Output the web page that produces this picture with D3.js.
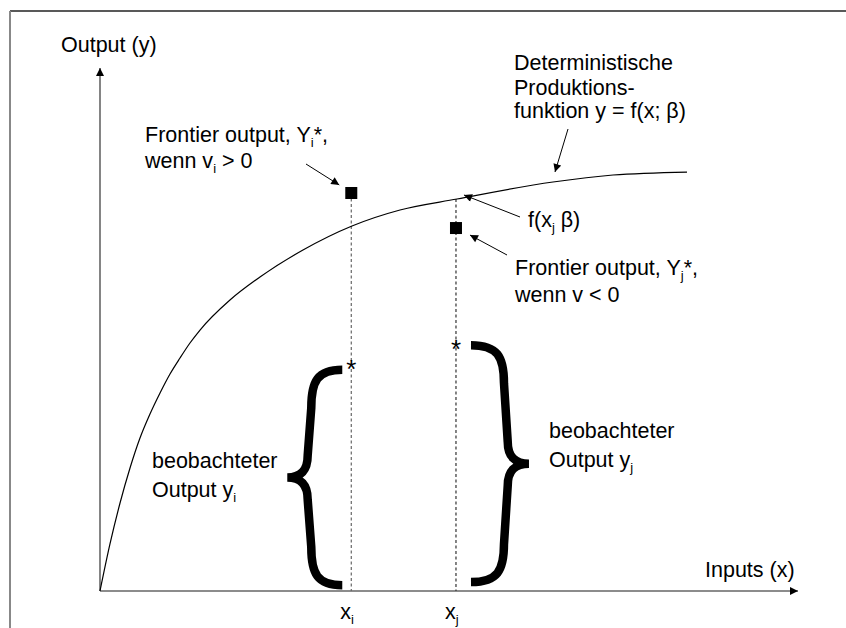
<!DOCTYPE html>
<html>
<head>
<meta charset="utf-8">
<script src="https://cdn.jsdelivr.net/npm/d3@7"></script>
<style>
  body { margin: 0; background: #fff; }
  svg text { font-family: "Liberation Sans", Arial, Helvetica, sans-serif; fill: #000; }
</style>
</head>
<body>
<div id="chart"></div>
<script>
// deterministic production function y = f(x; beta)
var curveX = [0, 0.143, 0.287, 0.43, 0.573, 0.716, 0.86, 1.003, 1.146, 1.289, 1.433, 1.862, 2.292, 2.908, 3.61, 4.298, 5.115, 6.49, 7.35, 8.41]
var curveY = [0, 0.899, 1.683, 2.352, 2.925, 3.384, 3.786, 4.149, 4.455, 4.742, 4.99, 5.564, 6.004, 6.52, 6.979, 7.285, 7.495, 7.82, 7.954, 8.011]

// the two producers i and j
var obsNames = ["i", "j"]
var obsX = [3.6, 5.1]
var frontierY = [7.61, 6.94]      // frontier output Y*
var dashTop = [7.61, 7.495]       // top of the dashed guide
var starY = [4.36, 4.74]          // observed output y
var braceTop = [4.23, 4.70]
var braceBottom = [0.11, 0.17]

var width = 846, height = 628

var x = d3.scaleLinear().domain([0, 10]).range([100, 798])
var y = d3.scaleLinear().domain([0, 10]).range([591, 68])

var svg = d3.select("#chart").append("svg")
  .attr("width", width)
  .attr("height", height)

var defs = svg.append("defs")
defs.append("marker")
  .attr("id", "arrow")
  .attr("markerUnits", "userSpaceOnUse")
  .attr("viewBox", "0 0 10 10")
  .attr("refX", 10).attr("refY", 5)
  .attr("markerWidth", 9).attr("markerHeight", 8)
  .attr("orient", "auto")
  .append("path")
  .attr("d", "M0,0 L10,5 L0,10 Z")
  .attr("fill", "#000")

// frame
svg.append("line")
  .attr("x1", 10).attr("y1", 11).attr("x2", width).attr("y2", 11)
  .attr("stroke", "#222").attr("stroke-width", 1.5)
svg.append("line")
  .attr("x1", 10).attr("y1", 11).attr("x2", 10).attr("y2", height)
  .attr("stroke", "#888").attr("stroke-width", 2)

// axes
svg.append("line")
  .attr("x1", x(0)).attr("y1", y(0)).attr("x2", x(0)).attr("y2", y(10))
  .attr("stroke", "#333").attr("stroke-width", 1.2)
  .attr("marker-end", "url(#arrow)")
svg.append("line")
  .attr("x1", x(0)).attr("y1", y(0)).attr("x2", x(10)).attr("y2", y(0))
  .attr("stroke", "#666").attr("stroke-width", 1.5)
  .attr("marker-end", "url(#arrow)")

svg.append("text").attr("x", 61).attr("y", 52).attr("font-size", 21.5).text("Output (y)")
svg.append("text").attr("x", 705).attr("y", 577).attr("font-size", 21.5).text("Inputs (x)")

// dashed guides
svg.selectAll("line.guide")
  .data(obsX)
  .enter().append("line")
  .attr("class", "guide")
  .attr("x1", d => x(d)).attr("x2", d => x(d))
  .attr("y1", (d, i) => y(dashTop[i]))
  .attr("y2", y(0))
  .attr("stroke", (d, i) => i == 0 ? "#666" : "#333")
  .attr("stroke-width", 1.2)
  .attr("stroke-dasharray", "3,2.5")

// production function
var line = d3.line()
  .x(d => x(d[0]))
  .y(d => y(d[1]))
  .curve(d3.curveMonotoneX)

svg.append("path")
  .datum(d3.zip(curveX, curveY))
  .attr("d", line)
  .attr("fill", "none")
  .attr("stroke", "#000")
  .attr("stroke-width", 1.2)

// frontier output points
svg.selectAll("rect.frontier")
  .data(obsX)
  .enter().append("rect")
  .attr("class", "frontier")
  .attr("x", d => x(d) - 6)
  .attr("y", (d, i) => y(frontierY[i]) - 6)
  .attr("width", 12).attr("height", 12)
  .attr("fill", "#000")

// observed output stars
svg.selectAll("text.star")
  .data(obsX)
  .enter().append("text")
  .attr("class", "star")
  .attr("x", d => x(d))
  .attr("y", (d, i) => y(starY[i]) + 15)
  .attr("text-anchor", "middle")
  .attr("font-size", 26)
  .text("*")

// braces
function brace(xHook, xStem, xTip, yTop, yBot) {
  var ym = (yTop + yBot) / 2, r1 = 38, r2 = 22
  var lean = (xTip - xStem) * 0.15
  return "M" + xHook + "," + yTop +
    "C" + (xStem + (xHook - xStem) * 0.2) + "," + yTop + " " + xStem + "," + (yTop + r1 * 0.3) + " " + xStem + "," + (yTop + r1) +
    "L" + (xStem + lean) + "," + (ym - r2) +
    "Q" + (xStem + lean) + "," + ym + " " + xTip + "," + ym +
    "Q" + (xStem + lean) + "," + ym + " " + (xStem + lean) + "," + (ym + r2) +
    "L" + xStem + "," + (yBot - r1) +
    "C" + xStem + "," + (yBot - r1 * 0.3) + " " + (xStem + (xHook - xStem) * 0.2) + "," + yBot + " " + xHook + "," + yBot
}

var bi = x(obsX[0])
svg.append("path")
  .attr("d", brace(bi - 9, bi - 40, bi - 64, y(braceTop[0]), y(braceBottom[0])))
  .attr("fill", "none").attr("stroke", "#000").attr("stroke-width", 8.5)
var bj = x(obsX[1])
svg.append("path")
  .attr("d", brace(bj + 15, bj + 48, bj + 73, y(braceTop[1]), y(braceBottom[1])))
  .attr("fill", "none").attr("stroke", "#000").attr("stroke-width", 8.5)

// tick labels x_i, x_j
obsNames.forEach(function(n, i) {
  var t = svg.append("text")
    .attr("x", x(obsX[i]) - 11).attr("y", 619).attr("font-size", 21.5)
  t.append("tspan").text("x")
  t.append("tspan").attr("font-size", 13).attr("dy", 5).text(n)
})

// annotation texts
function label(px, py, parts) {
  var t = svg.append("text").attr("x", px).attr("y", py).attr("font-size", 21.5)
  parts.forEach(function(p) {
    if (typeof p == "string") t.append("tspan").text(p)
    else {
      t.append("tspan").attr("font-size", 13).attr("dy", 5).text(p.sub)
      t.append("tspan").attr("dy", -5).text(p.after || "")
    }
  })
}

label(514, 70, ["Deterministische"])
label(514, 95, ["Produktions-"])
label(514, 118, ["funktion y = f(x; \u03b2)"])

label(145, 142, ["Frontier output, Y", {sub: "i", after: "*,"}])
label(145, 168, ["wenn v", {sub: "i", after: " > 0"}])

label(528, 227, ["f(x", {sub: "j", after: " \u03b2)"}])

label(515, 275, ["Frontier output, Y", {sub: "j", after: "*,"}])
label(515, 302, ["wenn v < 0"])

label(152, 468, ["beobachteter"])
label(152, 497, ["Output y", {sub: "i"}])
label(549, 438, ["beobachteter"])
label(549, 467, ["Output y", {sub: "j"}])

// annotation arrows
var arrows = [
  [306, 164, x(obsX[0]) - 12, y(frontierY[0]) - 8],
  [568, 129, 555, 172],
  [520, 217, x(obsX[1]) + 8, y(dashTop[1]) - 4],
  [507, 255, x(obsX[1]) + 14, y(frontierY[1]) + 7]
]
svg.selectAll("line.note")
  .data(arrows)
  .enter().append("line")
  .attr("class", "note")
  .attr("x1", d => d[0]).attr("y1", d => d[1])
  .attr("x2", d => d[2]).attr("y2", d => d[3])
  .attr("stroke", "#000").attr("stroke-width", 1)
  .attr("marker-end", "url(#arrow)")
</script>
</body>
</html>
